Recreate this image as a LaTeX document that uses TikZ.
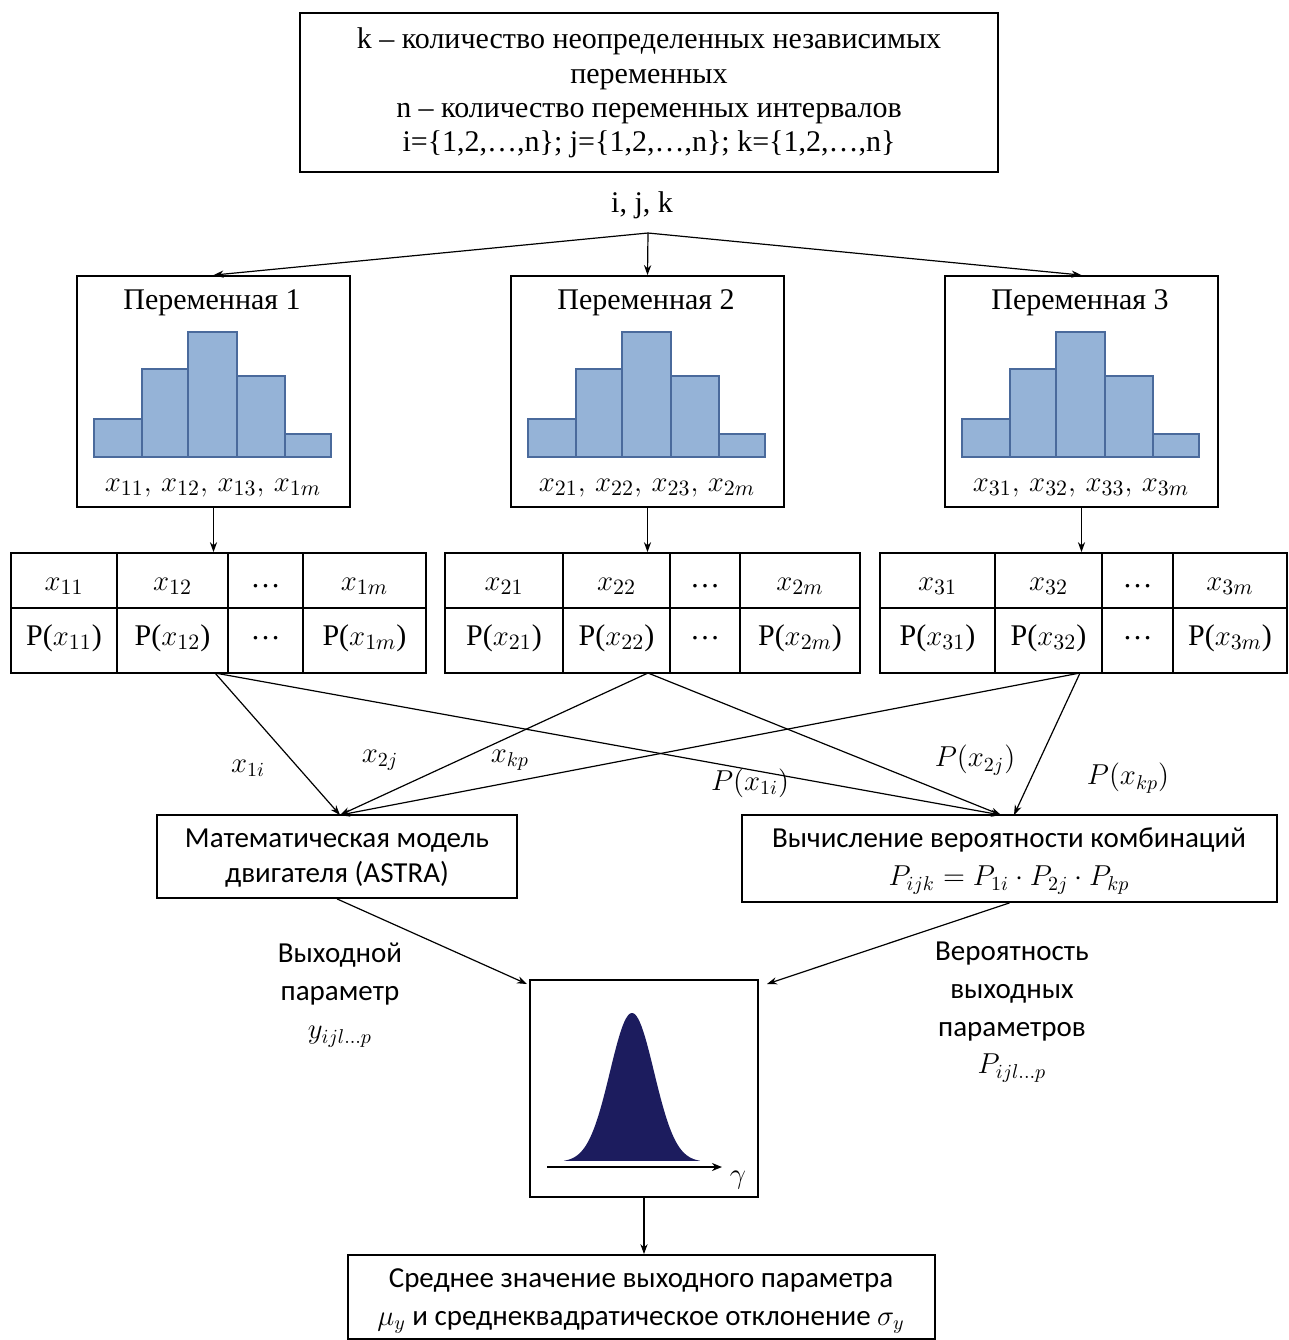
\documentclass[tikz,border=0pt]{standalone}
\usepackage{fontspec}
\setmainfont{Liberation Serif}
\newfontfamily\calib{Carlito}
\usetikzlibrary{arrows.meta,fit}
\definecolor{histfill}{HTML}{95B3D7}
\definecolor{histline}{HTML}{4A6A9C}
\definecolor{navy}{HTML}{1C1C5E}
\begin{document}
\begin{tikzpicture}[x=0.5pt,y=-0.5pt,
  box/.style={draw, line width=0.9pt, inner sep=0pt},
  arr/.style={-{Stealth[length=5pt,width=3.6pt]}, line width=0.6pt},
  sertext/.style={font=\fontsize{15}{17.2}\selectfont, align=center, inner sep=0pt},
  celltext/.style={font=\fontsize{15}{17}\selectfont, inner sep=0pt},
  mlabel/.style={font=\fontsize{14.5}{17}\selectfont, inner sep=0pt},
  sanstext/.style={font=\calib\fontsize{14.5}{17.5}\selectfont, align=center, inner sep=0pt},
  bar/.style={fill=histfill, draw=histline, line width=0.6pt}]
\useasboundingbox (0,0) rectangle (1289,1340);

% top box
\node[box, fit={(300,13)(998,172)}] (top) {};
\node[sertext, font=\fontsize{15}{17.2}\selectfont] (toptext) at (649,93)
  {k – количество неопределенных независимых\\переменных\\n – количество переменных интервалов\\i=\{1,2,…,n\}; j=\{1,2,…,n\}; k=\{1,2,…,n\}};

\node[sertext] (ijk) at (642,205) {i, j, k};
\coordinate (fork) at (648,233);

% variable boxes
\foreach \n/\L in {1/77, 2/511, 3/945}{
  \node[box, fit={(\L,276)(\L+273,507)}] (v\n) {};
  \node[sertext] (title\n) at (\L+135,303) {Переменная \n};
  \draw[bar] (\L+17,457) rectangle (\L+65,419);
  \draw[bar] (\L+65,457) rectangle (\L+111,369);
  \draw[bar] (\L+111,457) rectangle (\L+160,332);
  \draw[bar] (\L+160,457) rectangle (\L+208,376);
  \draw[bar] (\L+208,457) rectangle (\L+254,434);
  \node[celltext] (xs\n) at (\L+136,488) {$x_{\n1},\, x_{\n2},\, x_{\n3},\, x_{\n m}$};
  \draw[arr] (fork) -- (v\n.north);
}

% tables
\foreach \n/\L/\a/\b/\c/\R in {1/11/117/228/303/426, 2/445/563/670/740/860, 3/880/995/1102/1173/1287}{
  \node[box, fit={(\L,553)(\R,673)}] (t\n) {};
  \draw[line width=0.9pt] (\L,608) -- (\R,608) (\a,553) -- (\a,673) (\b,553) -- (\b,673) (\c,553) -- (\c,673);
  \node[celltext] (c\n a) at ({(\L+\a)/2},586) {$x_{\n1}$};
  \node[celltext] (c\n b) at ({(\a+\b)/2},586) {$x_{\n2}$};
  \node[celltext] (c\n c) at ({(\b+\c)/2},586) {…};
  \node[celltext] (c\n d) at ({(\c+\R)/2},586) {$x_{\n m}$};
  \node[celltext] (d\n a) at ({(\L+\a)/2},638) {P($x_{\n1}$)};
  \node[celltext] (d\n b) at ({(\a+\b)/2},638) {P($x_{\n2}$)};
  \node[celltext] (d\n c) at ({(\b+\c)/2},638) {…};
  \node[celltext] (d\n d) at ({(\c+\R)/2},638) {P($x_{\n m}$)};
  \draw[arr] (v\n.south) -- (v\n.south |- t\n.north);
}

% math model and probability boxes
\node[box, fit={(157,815)(517,898)}] (m) {};
\node[sanstext, font=\calib\fontsize{14.5}{17.5}\selectfont] (mtext) at (337,858) {Математическая модель\\двигателя (ASTRA)};
\node[box, fit={(742,815)(1277,902)}] (p) {};
\node[sanstext, font=\calib\fontsize{14.5}{19}\selectfont] (ptext) at (1009,861) {Вычисление вероятности комбинаций\\$P_{ijk}=P_{1i}\cdot P_{2j}\cdot P_{kp}$};

\coordinate (min) at (340,815);
\coordinate (pin1) at (1001,815);
\coordinate (pin2) at (1014,815);
\coordinate (s1) at (215,673);
\coordinate (s2) at (648,673);
\coordinate (s3) at (1080,673);

\draw[arr] (s1) -- (min);
\draw[arr] (s2) -- (min);
\draw[arr] (s3) -- (min);
\draw[arr] (s1) -- (pin1);
\draw[arr] (s2) -- (pin1);
\draw[arr] (s3) -- (pin2);

\node[mlabel] (l1) at (248,768) {$x_{1i}$};
\node[mlabel] (l2) at (380,760) {$x_{2j}$};
\node[mlabel] (l3) at (510,760) {$x_{kp}$};
\node[mlabel] (l4) at (750,783) {$P(x_{1i})$};
\node[mlabel] (l5) at (975,760) {$P(x_{2j})$};
\node[mlabel] (l6) at (1128,778) {$P(x_{kp})$};

% distribution box
\node[box, fit={(530,980)(758,1197)}] (dist) {};
\fill[navy] plot[domain=-3.1:3.1, samples=80] ({632+22*\x},{1162-149*exp(-\x*\x/2)}) -- cycle;
\draw[line width=1.3pt, -{Stealth[length=5pt,width=4pt]}] (547,1167) -- (722,1167);
\node[mlabel] (gam) at (738,1180) {$\gamma$};

\coordinate (din1) at (527,984);
\coordinate (din2) at (767,984);
\draw[arr] (m.south) -- (din1);
\draw[arr] (p.south) -- (din2);

\node[sanstext, font=\calib\fontsize{14.5}{19}\selectfont] (outlab) at (340,995) {Выходной\\параметр\\$y_{ijl\ldots p}$};
\node[sanstext, font=\calib\fontsize{14.5}{18.9}\selectfont] (problab) at (1012,1012) {Вероятность\\выходных\\параметров\\$P_{ijl\ldots p}$};

% result
\node[box, fit={(348,1255)(935,1339)}] (res) {};
\node[sanstext, font=\calib\fontsize{14.5}{19}\selectfont] (restext) at (641,1301) {Среднее значение выходного параметра\\$\mu_y$ и среднеквадратическое отклонение $\sigma_y$};
\draw[arr] (dist.south) -- (dist.south |- res.north);
\end{tikzpicture}
\end{document}
